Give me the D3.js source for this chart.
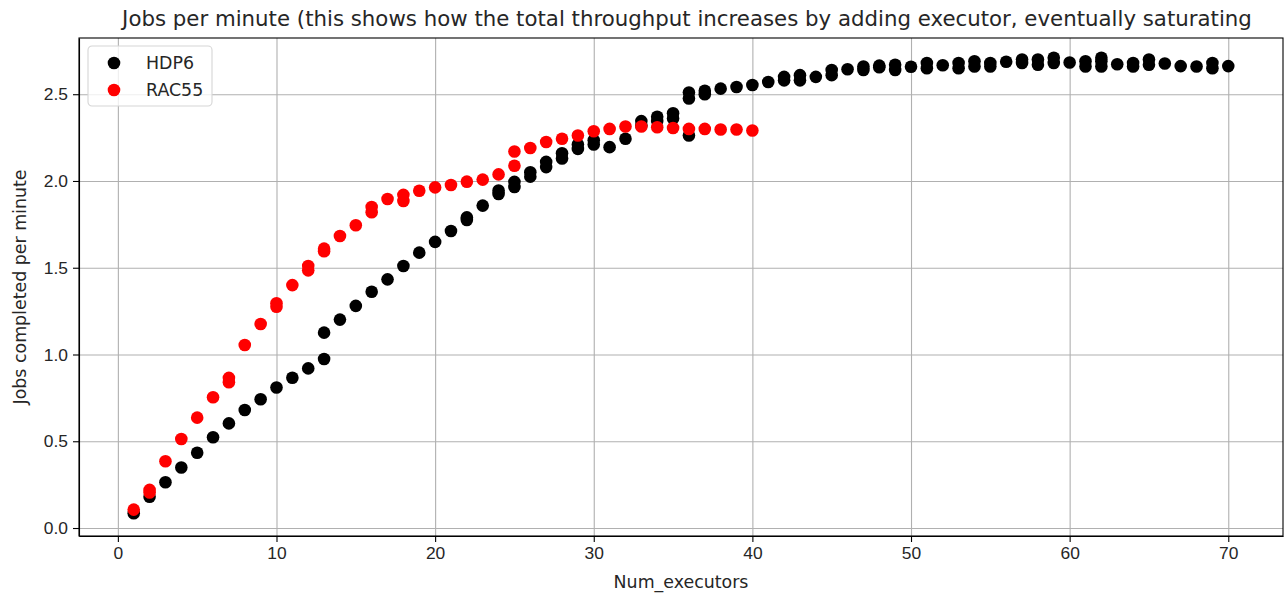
<!DOCTYPE html>
<html>
<head>
<meta charset="utf-8">
<script src="https://cdn.jsdelivr.net/npm/d3@7"></script>
<style>
  body { margin: 0; background: #fff; }
  svg { display: block; font-family: "DejaVu Sans", sans-serif; }
  .axis path, .axis line { stroke: #000; stroke-width: 1.1; }
  .axis text { font-size: 17.4px; fill: #262626; }
  .grid line { stroke: #b0b0b0; stroke-width: 1.1; }
  .grid path { display: none; }
</style>
</head>
<body>
<div id="chart"></div>
<script>
// HDP6 series: executors and jobs/minute (repeated runs share an x value)
const hdp6X = [1, 2, 3, 4, 5, 6, 7, 8, 9, 10, 11, 12, 13, 13, 14, 15, 16, 17, 18, 19, 20, 21,
  22, 22, 23, 24, 24, 25, 25, 26, 26, 27, 27, 28, 28, 29, 29, 30, 30, 31, 32, 33, 33, 34, 34,
  35, 35, 36, 36, 36, 37, 37, 38, 39, 40, 41, 42, 42, 43, 43, 44, 45, 45, 46, 47, 47, 48, 48,
  49, 49, 50, 51, 51, 52, 53, 53, 54, 54, 55, 55, 56, 57, 57, 58, 58, 59, 59, 60, 61, 61,
  62, 62, 62, 63, 64, 64, 65, 65, 66, 67, 68, 69, 69, 70];
const hdp6Y = [0.085, 0.18, 0.264, 0.349, 0.434, 0.523, 0.603, 0.68, 0.742, 0.81, 0.866, 0.92, 0.974, 1.126, 1.201, 1.28, 1.362, 1.433, 1.51, 1.587, 1.649, 1.712,
  1.775, 1.79, 1.858, 1.925, 1.945, 1.965, 1.995, 2.025, 2.05, 2.08, 2.11, 2.13, 2.16, 2.185, 2.21, 2.21, 2.235, 2.195, 2.243, 2.32, 2.345, 2.345, 2.37,
  2.36, 2.39, 2.262, 2.475, 2.51, 2.5, 2.52, 2.532, 2.542, 2.553, 2.57, 2.58, 2.6, 2.58, 2.61, 2.6, 2.61, 2.64, 2.644, 2.64, 2.66, 2.655, 2.665,
  2.64, 2.67, 2.658, 2.65, 2.68, 2.667, 2.65, 2.68, 2.66, 2.69, 2.66, 2.68, 2.687, 2.68, 2.7, 2.67, 2.7, 2.68, 2.71, 2.683, 2.66, 2.69,
  2.66, 2.69, 2.71, 2.673, 2.66, 2.68, 2.67, 2.7, 2.677, 2.662, 2.66, 2.65, 2.68, 2.662];

// RAC55 series
const rac55X = [1, 2, 2, 3, 4, 5, 6, 7, 7, 8, 9, 10, 10, 11, 12, 12, 13, 13, 14, 15, 16, 16, 17,
  18, 18, 19, 20, 21, 22, 23, 24, 25, 25, 26, 27, 28, 29, 30, 31, 32, 33, 34, 35, 36, 37, 38, 39, 40];
const rac55Y = [0.106, 0.205, 0.22, 0.385, 0.513, 0.636, 0.754, 0.84, 0.865, 1.055, 1.176, 1.275, 1.295, 1.4, 1.485, 1.51, 1.595, 1.61, 1.683, 1.745, 1.82, 1.85, 1.896,
  1.885, 1.92, 1.944, 1.963, 1.977, 1.996, 2.008, 2.038, 2.088, 2.17, 2.19, 2.225, 2.243, 2.262, 2.287, 2.3, 2.314, 2.314, 2.31, 2.305, 2.3, 2.3, 2.297, 2.297, 2.291];

const xTicks = [0, 10, 20, 30, 40, 50, 60, 70];
const yTicks = [0, 0.5, 1.0, 1.5, 2.0, 2.5];

const series = [
  { name: "HDP6", color: "#000000", xs: hdp6X, ys: hdp6Y },
  { name: "RAC55", color: "#ff0000", xs: rac55X, ys: rac55Y },
];

const width = 1288;
const height = 593;
const margin = { top: 38, right: 5, bottom: 57, left: 79 };
const innerWidth = width - margin.left - margin.right;
const innerHeight = height - margin.top - margin.bottom;

const svg = d3.select("#chart")
  .append("svg")
  .attr("width", width)
  .attr("height", height);

const g = svg.append("g")
  .attr("transform", `translate(${margin.left},${margin.top})`);

const x = d3.scaleLinear().domain([-2.45, 73.45]).range([0, innerWidth]);
const y = d3.scaleLinear().domain([-0.046, 2.824]).range([innerHeight, 0]);

// grid
const gx = g.append("g")
  .attr("class", "grid")
  .attr("transform", `translate(0,${innerHeight})`)
  .call(d3.axisBottom(x).tickValues(xTicks).tickSize(-innerHeight));
gx.selectAll("text").remove();
const gy = g.append("g")
  .attr("class", "grid")
  .call(d3.axisLeft(y).tickValues(yTicks).tickSize(-innerWidth));
gy.selectAll("text").remove();

// points
series.forEach((s) => {
  g.append("g")
    .selectAll("circle")
    .data(s.xs.map((v, i) => [v, s.ys[i]]))
    .enter()
    .append("circle")
    .attr("cx", (d) => x(d[0]))
    .attr("cy", (d) => y(d[1]))
    .attr("r", 6.3)
    .style("fill", s.color);
});

// axes
g.append("g")
  .attr("class", "axis")
  .attr("transform", `translate(0,${innerHeight})`)
  .call(d3.axisBottom(x).tickValues(xTicks).tickSize(6).tickPadding(5).tickSizeOuter(0).tickFormat(d3.format("d")));
g.append("g")
  .attr("class", "axis")
  .call(d3.axisLeft(y).tickValues(yTicks).tickSize(6).tickPadding(5).tickSizeOuter(0).tickFormat(d3.format(".1f")));

// frame
g.append("rect")
  .attr("width", innerWidth)
  .attr("height", innerHeight)
  .style("fill", "none")
  .style("stroke", "#000")
  .style("stroke-width", 1.1);

// labels
svg.append("text")
  .attr("x", margin.left + innerWidth / 2 + 6)
  .attr("y", 26)
  .attr("text-anchor", "middle")
  .style("font-size", "21.3px")
  .style("fill", "#262626")
  .text("Jobs per minute (this shows how the total throughput increases by adding executor, eventually saturating");

svg.append("text")
  .attr("x", margin.left + innerWidth / 2)
  .attr("y", 588)
  .attr("text-anchor", "middle")
  .style("font-size", "17.4px")
  .style("fill", "#262626")
  .text("Num_executors");

svg.append("text")
  .attr("transform", `translate(26,${margin.top + innerHeight / 2}) rotate(-90)`)
  .attr("text-anchor", "middle")
  .style("font-size", "17.4px")
  .style("fill", "#262626")
  .text("Jobs completed per minute");

// legend
const legend = svg.append("g").attr("transform", "translate(88,46)");
legend.append("rect")
  .attr("width", 124)
  .attr("height", 60)
  .attr("rx", 4)
  .style("fill", "#fff")
  .style("fill-opacity", 0.8)
  .style("stroke", "#d6d6d6")
  .style("stroke-width", 1.1);

const items = legend.selectAll(".item")
  .data(series)
  .enter()
  .append("g")
  .attr("class", "item")
  .attr("transform", (d, i) => `translate(0,${17 + i * 27})`);
items.append("circle")
  .attr("cx", 26)
  .attr("r", 6.3)
  .style("fill", (d) => d.color);
items.append("text")
  .attr("x", 58)
  .attr("dy", "0.35em")
  .style("font-size", "17.4px")
  .style("fill", "#262626")
  .text((d) => d.name);
</script>
</body>
</html>
